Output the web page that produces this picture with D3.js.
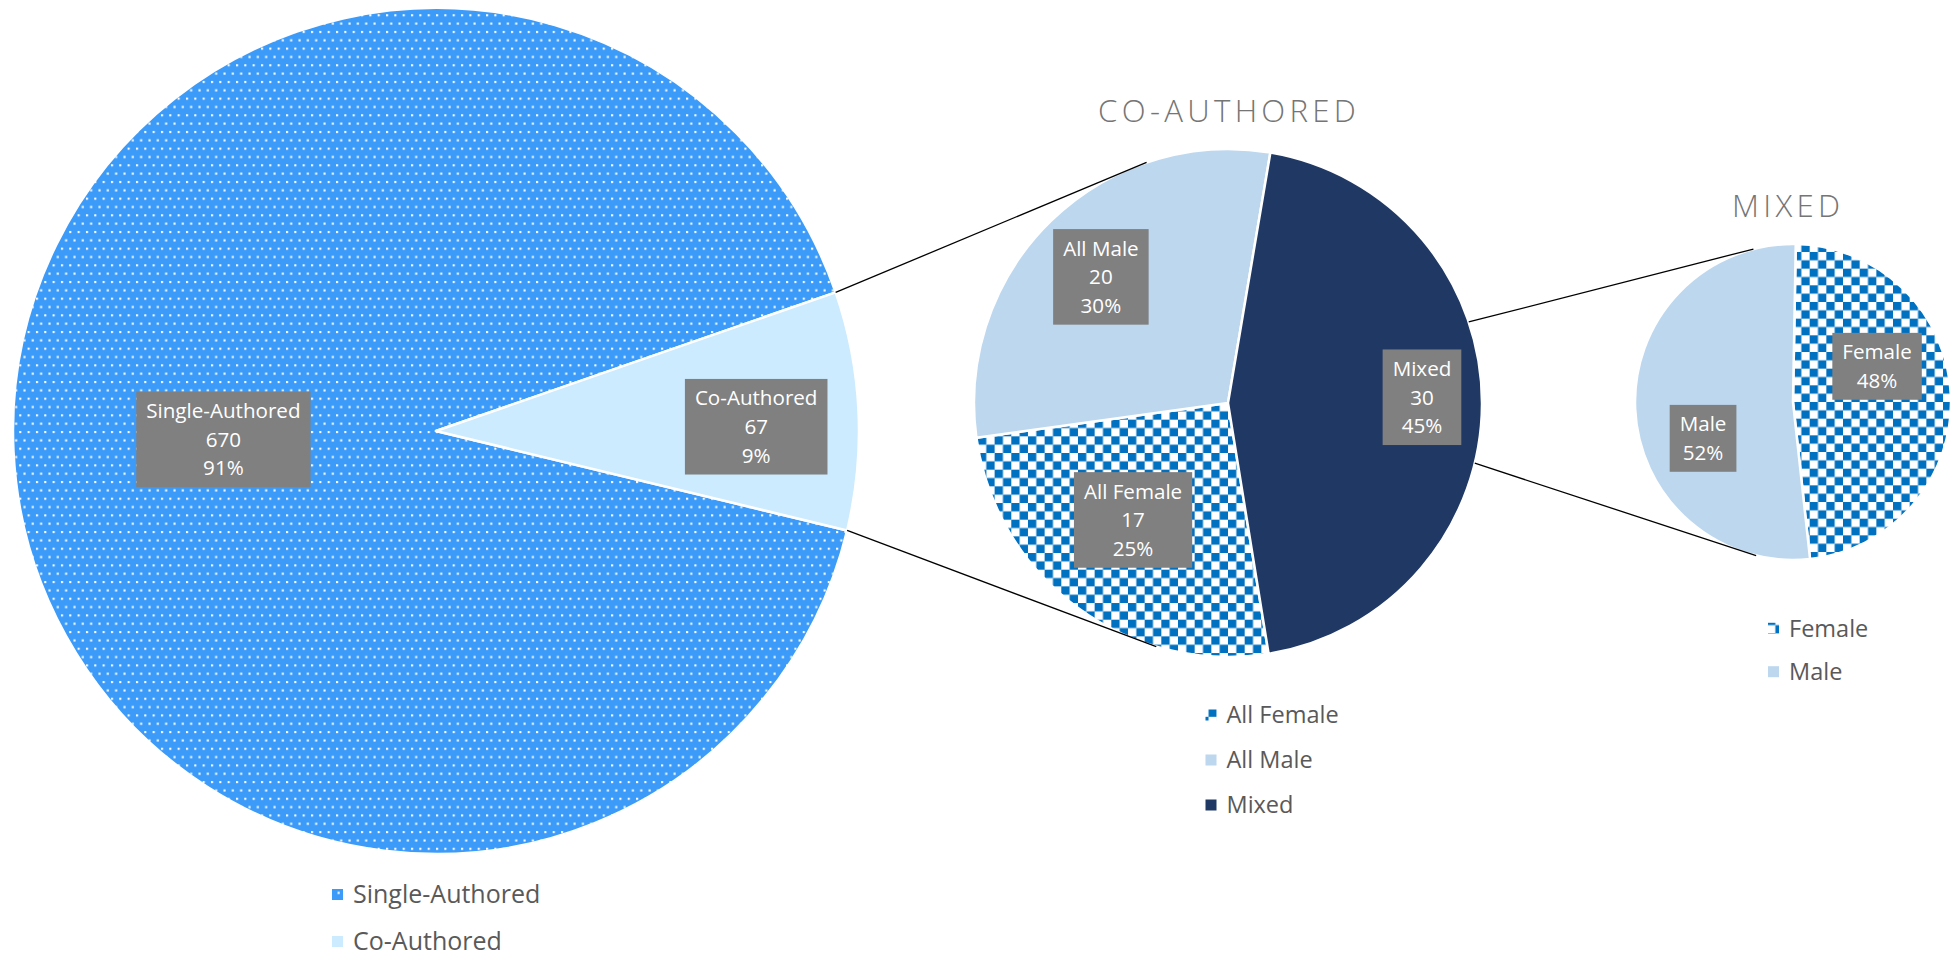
<!DOCTYPE html>
<html><head><meta charset="utf-8">
<script src="https://cdn.jsdelivr.net/npm/d3@7"></script>
<style>
body{margin:0;background:#fff}
svg{display:block}
text{font-family:"Open Sans","Noto Sans",sans-serif}
</style>
</head><body>
<svg id="chart" width="1959" height="956"></svg>
<script>
// ---------- data ----------
const mainCategories = ["Single-Authored", "Co-Authored"];
const mainValues = [670, 67];
const coCategories = ["All Female", "All Male", "Mixed"];
const coValues = [17, 20, 30];
const mixedCategories = ["Female", "Male"];
const mixedPercents = [48, 52];
const chartTitles = ["CO-AUTHORED", "MIXED"];

// ---------- setup ----------
const deg = Math.PI / 180;
const svg = d3.select("#chart");
const defs = svg.append("defs");
const T = 16.67, h = T / 2, q = T / 4;

const pDots = defs.append("pattern").attr("id", "pDots").attr("patternUnits", "userSpaceOnUse")
  .attr("width", h).attr("height", T);
pDots.append("rect").attr("width", h).attr("height", T).attr("fill", "#3C9BF8");
pDots.append("rect").attr("x", 0).attr("y", 0).attr("width", 2.1).attr("height", 2.1).attr("fill", "#fff");
pDots.append("rect").attr("x", q).attr("y", h).attr("width", 2.1).attr("height", 2.1).attr("fill", "#fff");

const pCheck = defs.append("pattern").attr("id", "pCheck").attr("patternUnits", "userSpaceOnUse")
  .attr("width", T).attr("height", T);
pCheck.append("rect").attr("width", T).attr("height", T).attr("fill", "#fff");
pCheck.append("rect").attr("x", 0).attr("y", 0).attr("width", h).attr("height", h).attr("fill", "#0070C0");
pCheck.append("rect").attr("x", h).attr("y", h).attr("width", h).attr("height", h).attr("fill", "#0070C0");

const pctFmt = d3.format(".0%");

function drawPie(cfg) {
  const total = d3.sum(cfg.values);
  const data = cfg.categories.map((c, i) => ({ c, v: cfg.values[i] }));
  const s = cfg.start * deg;
  const pie = d3.pie().sort(null).value(d => d.v).startAngle(s).endAngle(s + 2 * Math.PI);
  const arcs = pie(data);
  const arc = d3.arc().innerRadius(0).outerRadius(cfg.r);
  const g = svg.append("g").attr("transform", `translate(${cfg.cx},${cfg.cy})`);
  g.selectAll("path.slice").data(arcs).join("path").attr("class", "slice")
    .attr("d", arc)
    .attr("fill", (d, i) => cfg.fills[i])
    .attr("stroke", "#fff").attr("stroke-width", 2.5).attr("stroke-linejoin", "round");

  // data labels
  const fs = 20.6, lh = 28.7;
  arcs.forEach((a, i) => {
    const mid = (a.startAngle + a.endAngle) / 2 + cfg.labelPos[i][1] * deg;
    const rr = cfg.r * cfg.labelPos[i][0];
    const x = Math.sin(mid) * rr, y = -Math.cos(mid) * rr;
    const lines = cfg.lineFn(a.data, total);
    const lg = g.append("g");
    const rect = lg.append("rect").attr("fill", "#808080");
    const n = lines.length;
    let maxW = 0;
    lines.forEach((t, k) => {
      const tx = lg.append("text").attr("x", x)
        .attr("y", y + (k - (n - 1) / 2) * lh + 0.357 * fs)
        .attr("text-anchor", "middle").attr("font-size", fs).attr("fill", "#fff").text(t);
      maxW = Math.max(maxW, tx.node().getComputedTextLength());
    });
    const bw = maxW + 20, bh = n * lh + 9.5;
    rect.attr("x", x - bw / 2).attr("y", y - bh / 2).attr("width", bw).attr("height", bh);
  });
  return { arcs, cfg };
}

function pt(p, ang) {
  return [p.cfg.cx + Math.sin(ang) * p.cfg.r, p.cfg.cy - Math.cos(ang) * p.cfg.r];
}

const mainPie = drawPie({
  categories: mainCategories, values: mainValues,
  cx: 436, cy: 431, r: 423, start: 103.6,
  fills: ["url(#pDots)", "#CCEBFF"],
  labelPos: [[0.503, 0.5], [0.757, 2]],
  lineFn: (d, t) => [d.c, String(d.v), pctFmt(d.v / t)]
});
const coPie = drawPie({
  categories: coCategories, values: coValues,
  cx: 1228, cy: 403, r: 254, start: 170.8,
  fills: ["url(#pCheck)", "#BDD7EE", "#203864"],
  labelPos: [[0.593, 2.6], [0.705, -1.1], [0.764, -1.9]],
  lineFn: (d, t) => [d.c, String(d.v), pctFmt(d.v / t)]
});
const mixedPie = drawPie({
  categories: mixedCategories, values: mixedPercents,
  cx: 1793, cy: 402, r: 158, start: 1,
  fills: ["url(#pCheck)", "#BDD7EE"],
  labelPos: [[0.578, -20.4], [0.614, -19.4]],
  lineFn: (d, t) => [d.c, d.v + "%"]
});

// ---------- connector lines ----------
const coSlice = mainPie.arcs[1];
const connectors = [
  [pt(mainPie, coSlice.startAngle), pt(coPie, 341.3 * deg)],
  [pt(mainPie, coSlice.endAngle), pt(coPie, 196.4 * deg)],
  [pt(coPie, 71.4 * deg), pt(mixedPie, 345.5 * deg)],
  [pt(coPie, 103.7 * deg), pt(mixedPie, 193.5 * deg)]
];
svg.append("g").selectAll("line").data(connectors).join("line")
  .attr("x1", d => d[0][0]).attr("y1", d => d[0][1])
  .attr("x2", d => d[1][0]).attr("y2", d => d[1][1])
  .attr("stroke", "#000").attr("stroke-width", 1.3);

// ---------- titles ----------
const titleFs = 31.2, ls = 4.3;
[[chartTitles[0], 1227, 122.3], [chartTitles[1], 1786, 217.3]].forEach(([t, x, y]) => {
  svg.append("text").attr("x", x + ls / 2).attr("y", y).attr("text-anchor", "middle")
    .attr("font-size", titleFs).attr("font-weight", 300).attr("letter-spacing", ls)
    .attr("fill", "#757575").text(t);
});

// ---------- legends ----------
function legend(cats, fills, mx, y0, dy, fs) {
  const g = svg.append("g");
  cats.forEach((c, i) => {
    const y = y0 + i * dy;
    g.append("rect").attr("x", mx).attr("y", y - 5.5).attr("width", 11).attr("height", 11).attr("fill", fills[i]);
    g.append("text").attr("x", mx + 21).attr("y", y + 0.357 * fs).attr("font-size", fs)
      .attr("fill", "#595959").text(c);
  });
}
legend(mainCategories, ["url(#pDots)", "#CCEBFF"], 332, 894.5, 47, 25);
legend(coCategories, ["url(#pCheck)", "#BDD7EE", "#203864"], 1205.5, 715, 45, 23.5);
legend(mixedCategories, ["url(#pCheck)", "#BDD7EE"], 1768, 628.3, 43.4, 23.5);
</script>
</body></html>
